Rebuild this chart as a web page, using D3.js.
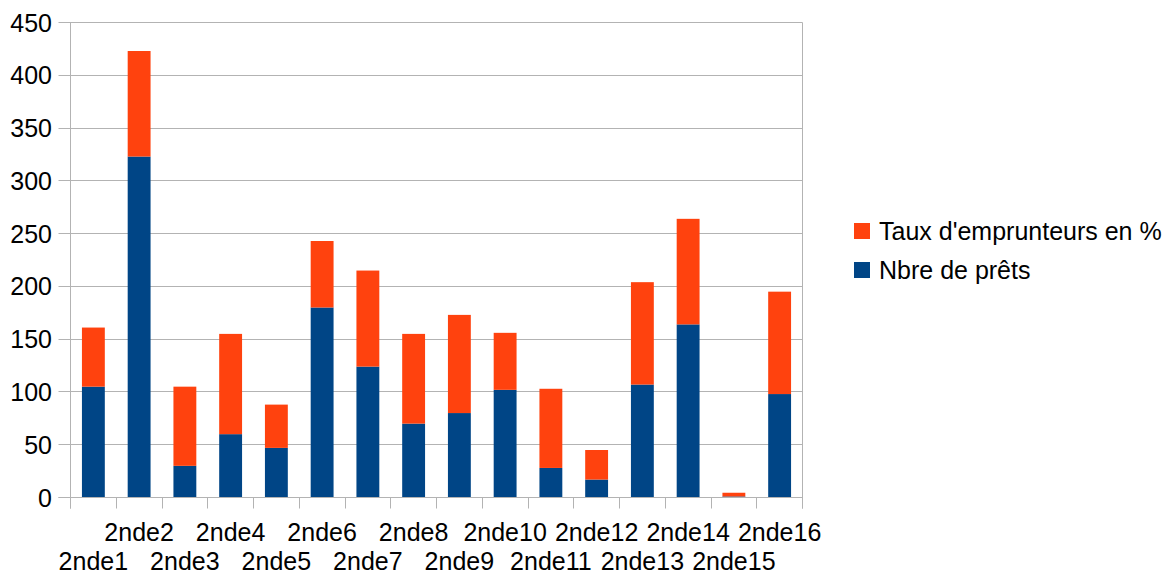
<!DOCTYPE html>
<html>
<head>
<meta charset="utf-8">
<script src="https://cdn.jsdelivr.net/npm/d3@7"></script>
<style>
  html, body { margin: 0; padding: 0; background: #fff; }
  svg { display: block; font-family: "Liberation Sans", Arial, sans-serif; }
</style>
</head>
<body>
<svg id="chart" width="1172" height="573"></svg>
<script>
const categories = ["2nde1","2nde2","2nde3","2nde4","2nde5","2nde6","2nde7","2nde8","2nde9","2nde10","2nde11","2nde12","2nde13","2nde14","2nde15","2nde16"];
const nbrePrets = [105, 323, 30, 60, 47, 180, 124, 70, 80, 102, 28, 17, 107, 164, 1, 98];
const tauxEmprunteurs = [56, 100, 75, 95, 41, 63, 91, 85, 93, 54, 75, 28, 97, 100, 3.5, 97];
const yTicks = [0, 50, 100, 150, 200, 250, 300, 350, 400, 450];
const seriesNames = ["Nbre de prêts", "Taux d'emprunteurs en %"];
const seriesColors = ["#004586", "#ff420e"];

const svg = d3.select("#chart");
const pLeft = 70.5, pRight = 802.5, pTop = 22.5, pBottom = 497.5;

const x = d3.scaleBand().domain(categories).range([pLeft, pRight]).paddingInner(0.5).paddingOuter(0.25);
const y = d3.scaleLinear().domain([0, 450]).range([pBottom, pTop]);

const rows = categories.map((c, i) => ({cat: c, a: nbrePrets[i], b: tauxEmprunteurs[i]}));
const stacked = d3.stack().keys(["a", "b"])(rows);

// gridlines + y ticks
svg.append("g").selectAll("line").data(yTicks).join("line")
  .attr("x1", pLeft - 12).attr("x2", pRight)
  .attr("y1", d => Math.round(y(d) - 0.5) + 0.5).attr("y2", d => Math.round(y(d) - 0.5) + 0.5)
  .attr("stroke", "#b3b3b3").attr("stroke-width", 1);

// y-axis line
svg.append("line").attr("x1", pLeft).attr("x2", pLeft).attr("y1", pTop).attr("y2", pBottom + 11)
  .attr("stroke", "#b3b3b3");
// right border
svg.append("line").attr("x1", pRight).attr("x2", pRight).attr("y1", pTop).attr("y2", pBottom + 11)
  .attr("stroke", "#b3b3b3");

// bars
svg.append("g").selectAll("g").data(stacked).join("g")
  .attr("fill", (d, i) => seriesColors[i])
  .selectAll("rect").data(d => d).join("rect")
  .attr("x", d => x(d.data.cat))
  .attr("width", x.bandwidth())
  .attr("y", d => y(d[1]))
  .attr("height", d => y(d[0]) - y(d[1]));

// x axis baseline
svg.append("line").attr("x1", pLeft - 12).attr("x2", pRight).attr("y1", pBottom).attr("y2", pBottom)
  .attr("stroke", "#b3b3b3");

// category ticks at band boundaries
const step = x.step();
const bounds = d3.range(categories.length + 1).map(i => x(categories[0]) - step * 0.25 + i * step);
svg.append("g").selectAll("line").data(bounds).join("line")
  .attr("x1", d => Math.round(d - 0.5) + 0.5).attr("x2", d => Math.round(d - 0.5) + 0.5)
  .attr("y1", pBottom).attr("y2", pBottom + 11)
  .attr("stroke", "#b3b3b3");

// y tick labels
svg.append("g").selectAll("text").data(yTicks).join("text")
  .attr("x", 52).attr("y", d => y(d) + 9)
  .attr("text-anchor", "end")
  .attr("font-size", 25)
  .attr("fill", "#000")
  .text(d => d);

// x labels (staggered)
svg.append("g").selectAll("text").data(categories).join("text")
  .attr("x", d => x(d) + x.bandwidth() / 2)
  .attr("y", (d, i) => i % 2 === 1 ? 541 : 570)
  .attr("text-anchor", "middle")
  .attr("font-size", 25)
  .attr("fill", "#000")
  .text(d => d);

// legend
const legendItems = [
  {name: seriesNames[1], color: seriesColors[1]},
  {name: seriesNames[0], color: seriesColors[0]}
];
const lg = svg.append("g").selectAll("g").data(legendItems).join("g")
  .attr("transform", (d, i) => `translate(854, ${223 + i * 39})`);
lg.append("rect").attr("width", 16).attr("height", 16).attr("fill", d => d.color);
lg.append("text").attr("x", 25).attr("y", 17).attr("font-size", 25).attr("fill", "#000")
  .text(d => d.name);
</script>
</body>
</html>
